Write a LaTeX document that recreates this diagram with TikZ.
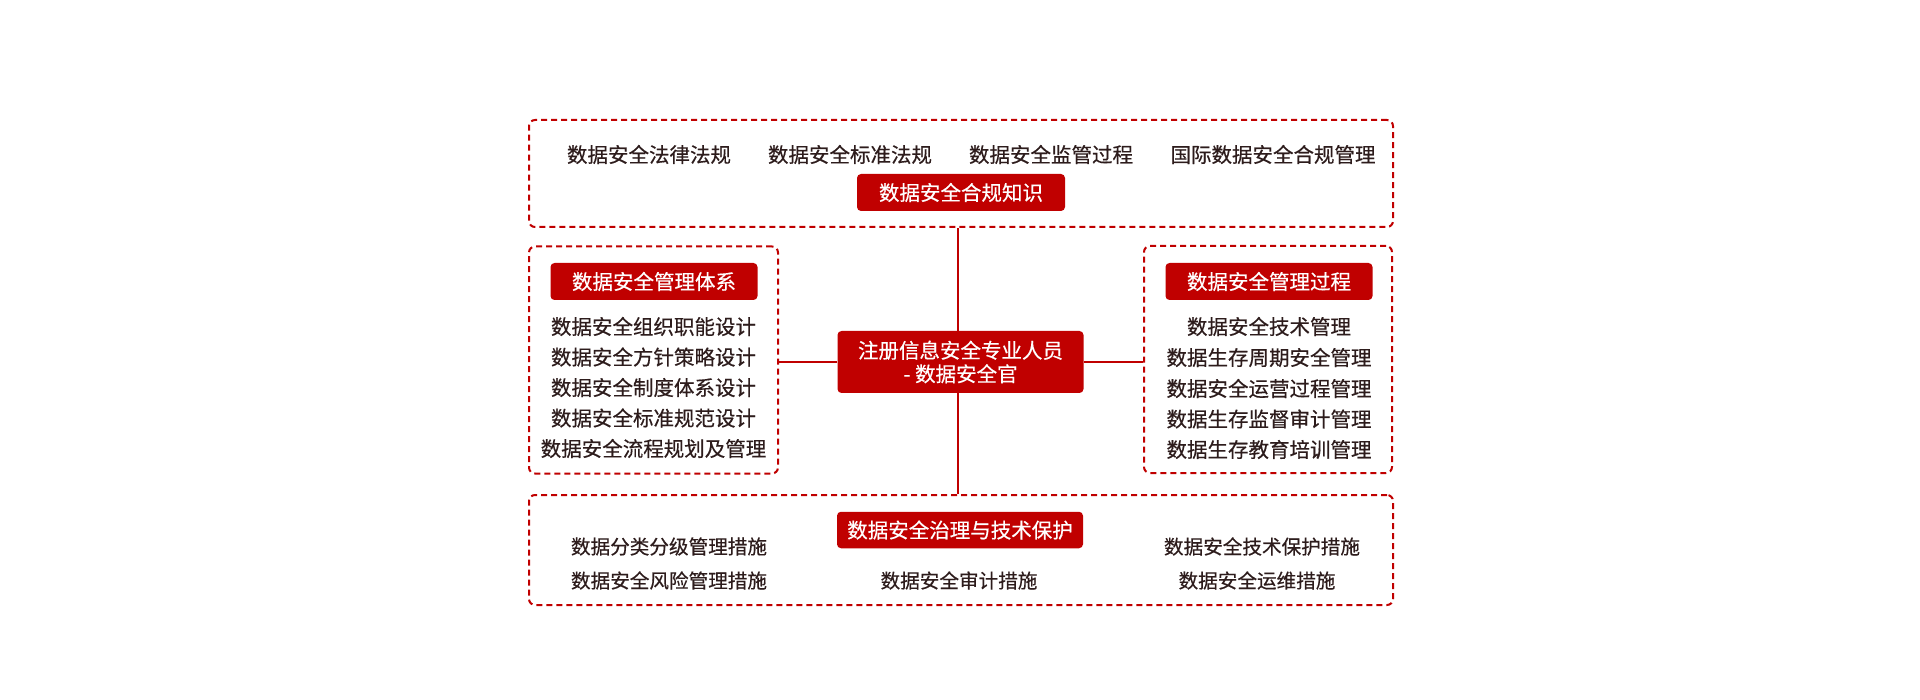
\documentclass[tikz,border=0pt]{standalone}
\usepackage{fontspec}
\setmainfont{Noto Sans CJK SC}[FakeBold=0.45]
\definecolor{dred}{RGB}{192,0,0}
\definecolor{ink}{RGB}{45,28,28}
\begin{document}
\begin{tikzpicture}[x=1pt,y=-1pt,
  dbox/.style={draw=dred, line width=2pt, dash pattern=on 6pt off 4pt, rounded corners=6pt, inner sep=0pt},
  tbox/.style={fill=dred, rounded corners=4pt, text=white, inner sep=0pt, align=center,
    font=\fontsize{20.5pt}{23.5pt}\selectfont},
  item/.style={text=ink, inner sep=0pt, font=\fontsize{20.5pt}{24pt}\selectfont},
  bitem/.style={text=ink, inner sep=0pt, font=\fontsize{19.6pt}{24pt}\selectfont},
  link/.style={draw=dred, line width=2.2pt}]
\useasboundingbox[fill=white] (0,0) rectangle (1920,700);

% frames
\node[dbox, minimum width=864pt, minimum height=107pt] (topbox) at (961,173.5) {};
\node[dbox, minimum width=249pt, minimum height=227pt] (leftbox) at (653.5,360) {};
\node[dbox, minimum width=248pt, minimum height=227pt] (rightbox) at (1268,359.5) {};
\node[dbox, minimum width=864pt, minimum height=110pt] (botbox) at (961,550) {};

% hub
\node[tbox, minimum width=246pt, minimum height=62pt] (hub) at (960.5,362) {注册信息安全专业人员\\- 数据安全官};

% connectors
\draw[link] ([xshift=-2.5pt]hub.north) -- ([xshift=-2.5pt]hub.north |- topbox.south);
\draw[link] ([xshift=-2.5pt]hub.south) -- ([xshift=-2.5pt]hub.south |- botbox.north);
\draw[link] (hub.west) -- (hub.west -| leftbox.east);
\draw[link] (hub.east) -- (hub.east -| rightbox.west);

% top group
\node[tbox, minimum width=208pt, minimum height=37pt] (ttitle) at (961,192.5) {\raisebox{-1pt}{数据安全合规知识}};
\node[item] (t1) at (649,154.5) {数据安全法律法规};
\node[item] (t2) at (850,154.5) {数据安全标准法规};
\node[item] (t3) at (1051,154.5) {数据安全监管过程};
\node[item] (t4) at (1273,154.5) {国际数据安全合规管理};

% left group
\node[tbox, minimum width=207pt, minimum height=37pt] (ltitle) at (654,281.5) {\raisebox{-1pt}{数据安全管理体系}};
\node[item] (l1) at (653.5,326.5) {数据安全组织职能设计};
\node[item] (l2) at (653.5,357) {数据安全方针策略设计};
\node[item] (l3) at (653.5,387.5) {数据安全制度体系设计};
\node[item] (l4) at (653.5,418) {数据安全标准规范设计};
\node[item] (l5) at (653.5,448.5) {数据安全流程规划及管理};

% right group
\node[tbox, minimum width=207pt, minimum height=37pt] (rtitle) at (1269,281.5) {\raisebox{-1pt}{数据安全管理过程}};
\node[item] (r1) at (1269,326.5) {数据安全技术管理};
\node[item] (r2) at (1269,357.5) {数据生存周期安全管理};
\node[item] (r3) at (1269,388.5) {数据安全运营过程管理};
\node[item] (r4) at (1269,419) {数据生存监督审计管理};
\node[item] (r5) at (1269,449.5) {数据生存教育培训管理};

% bottom group
\node[tbox, minimum width=246pt, minimum height=36.5pt] (btitle) at (960,530) {\raisebox{-1pt}{数据安全治理与技术保护}};
\node[bitem] (b1) at (669,546.5) {数据分类分级管理措施};
\node[bitem] (b2) at (669,580.5) {数据安全风险管理措施};
\node[bitem] (b3) at (959,580.5) {数据安全审计措施};
\node[bitem] (b4) at (1262,546.5) {数据安全技术保护措施};
\node[bitem] (b5) at (1257,580.5) {数据安全运维措施};
\end{tikzpicture}
\end{document}
